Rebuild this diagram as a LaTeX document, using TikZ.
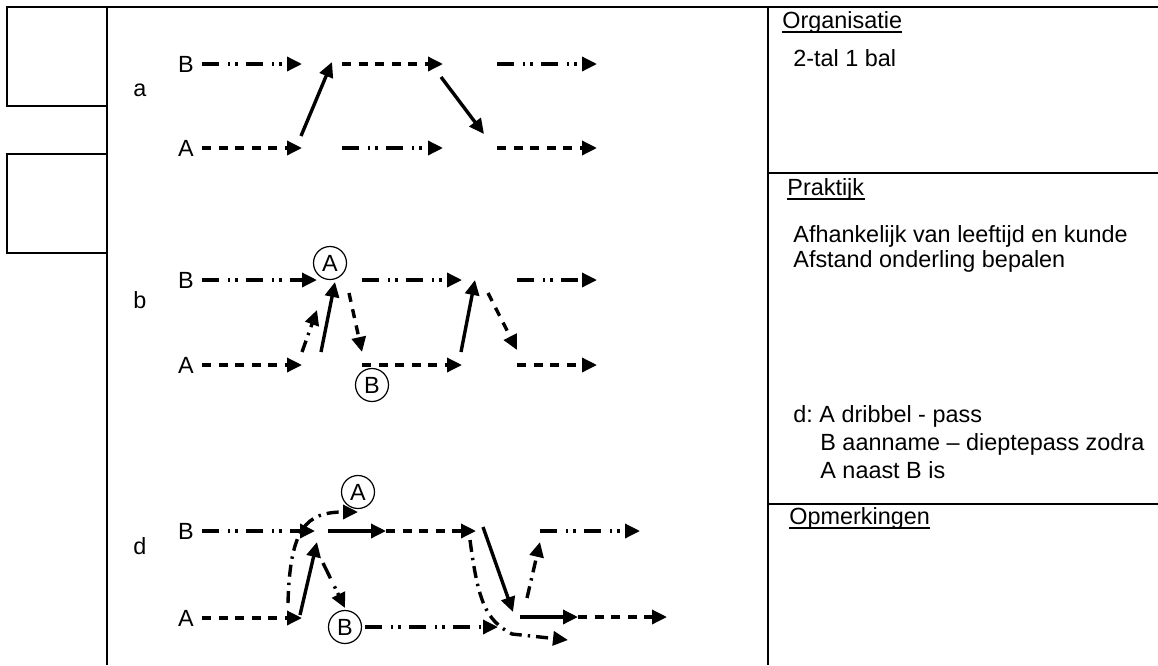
\documentclass[tikz,border=0pt]{standalone}
\usepackage{fontspec}
\setmainfont{Liberation Sans}
\usetikzlibrary{arrows.meta}
\frenchspacing
\begin{document}
\begin{tikzpicture}[x=0.5pt,y=-0.5pt,
  mv/.style={line width=1.7pt,line cap=butt,-{Triangle[length=7.5pt,width=7pt]}},
  sol/.style={mv},
  dsh/.style={mv,dash pattern=on 4.5pt off 3.8pt},
  ddt/.style={mv,dash pattern=on 8.5pt off 4.5pt on 1.2pt off 2.5pt on 1.2pt off 4pt},
  dd1/.style={mv,dash pattern=on 6pt off 3pt on 1.2pt off 3pt},
  circ/.style={circle,draw,line width=0.6pt,minimum size=16.5pt,inner sep=0pt,font=\fontsize{11.7}{14}\selectfont},
  lbl/.style={inner sep=0pt,font=\fontsize{11.7}{14}\selectfont},
  txt/.style={lbl,anchor=base west},
  frame/.style={line width=0.85pt}]
\useasboundingbox (0,0) rectangle (1158,665);
% frame
\draw[frame] (107,7) -- (1158,7);
\draw[frame] (107,7) -- (107,665);
\draw[frame] (768,7) -- (768,665);
\draw[frame] (768,173) -- (1158,173);
\draw[frame] (768,504) -- (1158,504);
\draw[frame] (7,7) rectangle (107,106);
\draw[frame] (7,154) rectangle (107,253);
% right column text
\node[txt] (org) at (782,28) {Organisatie};
\draw[line width=0.6pt] ([yshift=-2pt]org.base west) -- ([yshift=-2pt]org.base east);
\node[txt] (t1) at (793,66) {2-tal 1 bal};
\node[txt] (prak) at (787,195) {Praktijk};
\draw[line width=0.6pt] ([yshift=-2pt]prak.base west) -- ([yshift=-2pt]prak.base east);
\node[txt] (t2) at (793,242) {Afhankelijk van leeftijd en kunde};
\node[txt] (t3) at (793,267) {Afstand onderling bepalen};
\node[txt] (t4) at (793,422) {d: A dribbel - pass};
\node[txt] (t5) at (820,450) {B aanname -- dieptepass zodra};
\node[txt] (t6) at (820,478) {A naast B is};
\node[txt] (opm) at (789,524) {Opmerkingen};
\draw[line width=0.6pt] ([yshift=-2pt]opm.base west) -- ([yshift=-2pt]opm.base east);
% section labels
\node[lbl] (la) at (140,90) {a};
\node[lbl] (lb) at (140,300) {b};
\node[lbl] (ld) at (140,546) {d};
% ===== a =====
\node[lbl] (aB) at (186,64) {B};
\node[lbl] (aA) at (186,148) {A};
\coordinate (a1) at (202,64);  \coordinate (a2) at (302,64);
\coordinate (a3) at (342,64);  \coordinate (a4) at (443,64);
\coordinate (a5) at (497,64);  \coordinate (a6) at (597,64);
\coordinate (a7) at (202,148); \coordinate (a8) at (302,148);
\coordinate (a9) at (342,148); \coordinate (a10) at (443,148);
\coordinate (a11) at (497,148);\coordinate (a12) at (597,148);
\coordinate (a13) at (301,136);\coordinate (a14) at (332,62);
\coordinate (a15) at (441,77); \coordinate (a16) at (484,134);
\draw[ddt] (a1) -- (a2);
\draw[dsh] (a3) -- (a4);
\draw[ddt] (a5) -- (a6);
\draw[dsh] (a7) -- (a8);
\draw[ddt] (a9) -- (a10);
\draw[dsh] (a11) -- (a12);
\draw[sol] (a13) -- (a14);
\draw[sol] (a15) -- (a16);
% ===== b =====
\node[lbl] (bB) at (186,280) {B};
\node[lbl] (bA) at (186,365) {A};
\node[circ] (bcA) at (330,263) {A};
\node[circ] (bcB) at (372,385) {B};
\coordinate (b1) at (202,280); \coordinate (b2) at (317,280);
\coordinate (b3) at (362,280); \coordinate (b4) at (462,280);
\coordinate (b5) at (517,280); \coordinate (b6) at (597,280);
\coordinate (b7) at (202,365); \coordinate (b8) at (302,365);
\coordinate (b9) at (362,365); \coordinate (b10) at (462,365);
\coordinate (b11) at (517,365);\coordinate (b12) at (597,365);
\coordinate (b13) at (302,352);\coordinate (b14) at (317,310);
\coordinate (b15) at (321,352);\coordinate (b16) at (335,282);
\coordinate (b17) at (349,293);\coordinate (b18) at (362,352);
\coordinate (b19) at (461,352);\coordinate (b20) at (475,280);
\coordinate (b21) at (488,293);\coordinate (b22) at (517,350);
\draw[ddt] (b1) -- (b2);
\draw[ddt] (b3) -- (b4);
\draw[ddt] (b5) -- (b6);
\draw[dsh] (b7) -- (b8);
\draw[dsh] (b9) -- (b10);
\draw[dsh] (b11) -- (b12);
\draw[dd1] (b13) -- (b14);
\draw[sol] (b15) -- (b16);
\draw[dsh] (b17) -- (b18);
\draw[sol] (b19) -- (b20);
\draw[dsh] (b21) -- (b22);
% ===== d =====
\node[lbl] (dB) at (186,531) {B};
\node[lbl] (dA) at (186,618) {A};
\node[circ] (dcA) at (358,492) {A};
\node[circ] (dcB) at (345,627) {B};
\coordinate (d1) at (202,531); \coordinate (d2) at (315,531);
\coordinate (d3) at (328,531); \coordinate (d4) at (386,531);
\coordinate (d5) at (476,531);
\coordinate (d6) at (540,531); \coordinate (d7) at (640,531);
\coordinate (d8) at (202,618); \coordinate (d9) at (302,618);
\coordinate (d10) at (288,603);\coordinate (d11) at (358,512);
\coordinate (d12) at (300,615);\coordinate (d13) at (317,542);
\coordinate (d14) at (323,563);\coordinate (d15) at (345,608);
\coordinate (d16) at (365,627);\coordinate (d17) at (498,627);
\coordinate (d18) at (483,527);\coordinate (d19) at (513,612);
\coordinate (d20) at (520,617);\coordinate (d21) at (578,617);
\coordinate (d22) at (667,617);
\coordinate (d23) at (527,598);\coordinate (d24) at (540,542);
\coordinate (d25) at (470,540);\coordinate (d26) at (568,640);
\draw[ddt] (d1) -- (d2);
\draw[sol] (d3) -- (d4);
\draw[dsh] (d4) -- (d5);
\draw[ddt] (d6) -- (d7);
\draw[dsh] (d8) -- (d9);
\draw[dd1] (d10) .. controls (290,528) and (306,512) .. (d11);
\draw[sol] (d12) -- (d13);
\draw[ddt] (d14) -- (d15);
\draw[ddt] (d16) -- (d17);
\draw[sol] (d18) -- (d19);
\draw[sol] (d20) -- (d21);
\draw[dsh] (d21) -- (d22);
\draw[dd1] (d23) -- (d24);
\draw[dd1] (d25) .. controls (478,600) and (485,620) .. (512,634) -- (d26);
\end{tikzpicture}
\end{document}
